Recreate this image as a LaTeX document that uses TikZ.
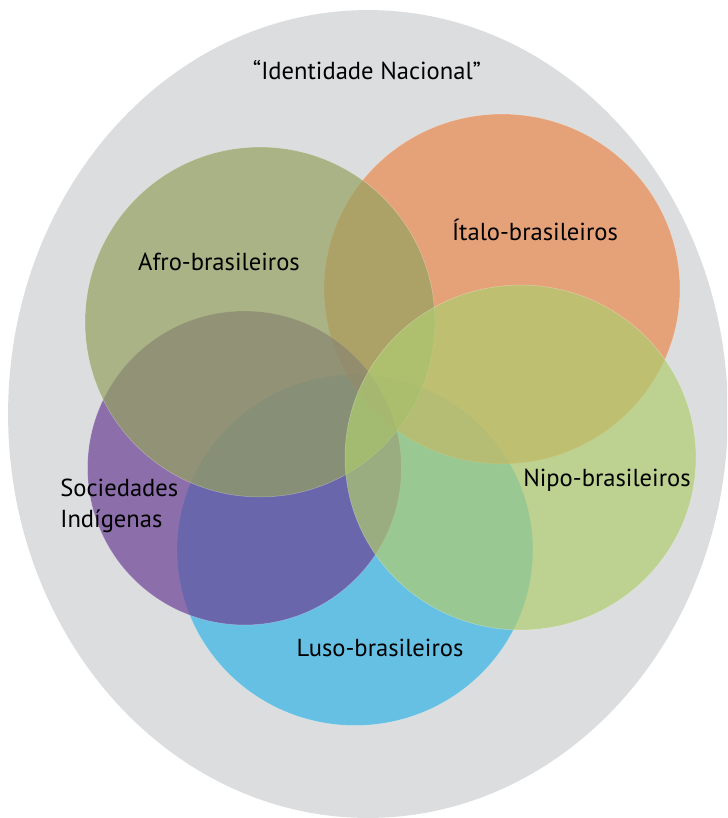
\documentclass[tikz,border=0pt]{standalone}
\usepackage{fontspec}
\setmainfont{PT Sans}
\definecolor{fundo}{RGB}{220,221,223}
\definecolor{afro}{RGB}{149,162,96}
\definecolor{italo}{RGB}{234,137,79}
\definecolor{nipo}{RGB}{176,204,112}
\definecolor{indig}{RGB}{107,64,149}
\definecolor{luso}{RGB}{51,181,229}
\tikzset{
  grupo/.style={fill opacity=0.7, draw=white, draw opacity=0.3, line width=0.3pt},
  rotulo/.style={font=\fontsize{14}{17.5}\selectfont, text=black, inner sep=0pt}
}
\begin{document}
\begin{tikzpicture}[x=0.02cm,y=-0.02cm]
        \useasboundingbox (0,0) rectangle (727,818);
        \clip (0,0) rectangle (727,818);
        \fill[fundo] (368,414) ellipse [x radius=7.2cm, y radius=8.08cm];
        \filldraw[grupo, fill=luso] (355,550) ellipse [x radius=3.56cm, y radius=3.51cm];
        \filldraw[grupo, fill=italo] (502,289) ellipse [x radius=3.56cm, y radius=3.5cm];
        \filldraw[grupo, fill=indig] (244.5,468) circle [radius=3.14cm];
        \filldraw[grupo, fill=afro] (260,322) circle [radius=3.5cm];
        \filldraw[grupo, fill=nipo] (520.5,457.5) ellipse [x radius=3.51cm, y radius=3.45cm];
        \node[rotulo] (nacional) at (367,70) {“Identidade Nacional”};
        \node[rotulo] (afrob) at (219,262) {Afro-brasileiros};
        \node[rotulo] (italob) at (535,230) {Ítalo-brasileiros};
        \node[rotulo] (nipob) at (607,480) {Nipo-brasileiros};
        \node[rotulo, anchor=west, align=left] (indigenas) at (60,506) {Sociedades\\Indígenas};
        \node[rotulo] (lusob) at (380,648) {Luso-brasileiros};
    \end{tikzpicture}
\end{document}
